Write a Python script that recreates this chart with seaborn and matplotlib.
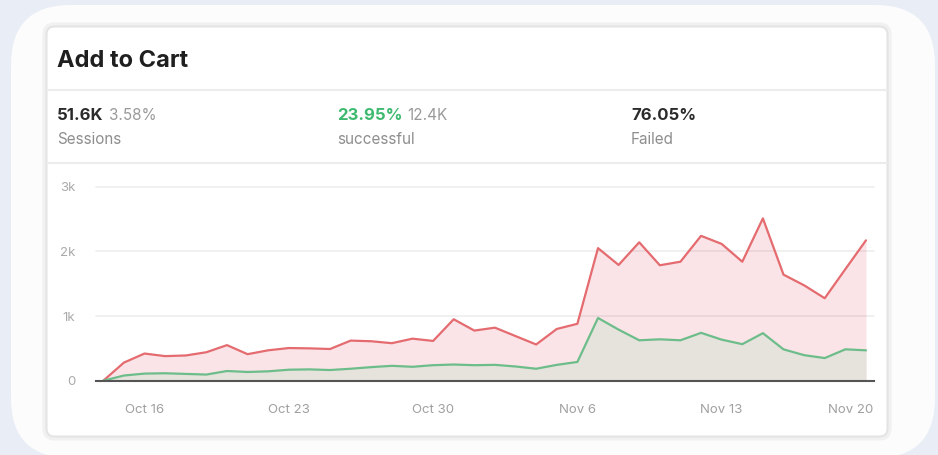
import matplotlib
matplotlib.use("Agg")
import matplotlib.pyplot as plt
from matplotlib.patches import FancyBboxPatch
import matplotlib.transforms as mtransforms
import seaborn as sns
import pandas as pd
import numpy as np

# ---------------- data ----------------
dates = pd.date_range("2023-10-14", "2023-11-20", freq="D")
sessions = [0, 280, 420, 380, 390, 440, 550, 410, 470, 505, 500, 490, 620, 610, 580, 650, 615, 950,
            775, 820, 690, 560, 800, 880, 2050, 1790, 2140, 1785, 1840, 2240, 2115, 1840, 2510,
            1640, 1475, 1275, 1725, 2170]
successful = [0, 80, 110, 115, 105, 95, 150, 135, 145, 170, 175, 165, 185, 210, 230, 215, 240, 250,
              240, 245, 220, 185, 245, 290, 970, 790, 625, 640, 625, 740, 635, 565, 735,
              485, 395, 350, 485, 470]
tick_dates = ["2023-10-16", "2023-10-23", "2023-10-30", "2023-11-06", "2023-11-13", "2023-11-20"]
tick_labels = ["Oct 16", "Oct 23", "Oct 30", "Nov 6", "Nov 13", "Nov 20"]
y_ticks = [0, 1000, 2000, 3000]
y_tick_labels = ["0", "1k", "2k", "3k"]

title = "Add to Cart"
stats = [("51.6K", "3.58%", "Sessions", "#2b2b2b"),
         ("23.95%", "12.4K", "successful", "#3dba6f"),
         ("76.05%", "", "Failed", "#2b2b2b")]

df = pd.DataFrame({"date": dates, "sessions": sessions, "successful": successful})

# ---------------- style ----------------
sns.set_style("white")
plt.rcParams["font.family"] = ["Inter", "DejaVu Sans"]

W, H = 938, 455
fig = plt.figure(figsize=(W / 100, H / 100), dpi=100)
fig.patch.set_facecolor("#e9eef6")

# background axes in pixel coordinates
bg = fig.add_axes([0, 0, 1, 1], zorder=0)
bg.set_xlim(0, W)
bg.set_ylim(H, 0)
bg.axis("off")

outer = FancyBboxPatch((11, 5), 924, 453, boxstyle="round,pad=0,rounding_size=60",
                       facecolor="#fcfcfd", edgecolor="none")
bg.add_patch(outer)
shadow = FancyBboxPatch((44.5, 24.5), 845, 414, boxstyle="round,pad=0,rounding_size=10",
                        facecolor="none", edgecolor="#f1f1f2", linewidth=3)
bg.add_patch(shadow)
inner = FancyBboxPatch((46.5, 26.5), 841, 410, boxstyle="round,pad=0,rounding_size=8",
                       facecolor="#ffffff", edgecolor="#e4e4e4", linewidth=1.5)
bg.add_patch(inner)
for yy in (89.5, 162.5):
    bg.plot([47, 887], [yy, yy], color="#ececec", lw=1.5)

bg.text(57, 61, title, fontsize=17, fontweight="bold", color="#1f1f1f", va="center", ha="left")

stat_x = [57, 337, 631]
fig.canvas.draw()
for (big, small, sub, col), x in zip(stats, stat_x):
    t = bg.text(x, 116, big, fontsize=12, fontweight="bold", color=col, va="center", ha="left")
    if small:
        bb = t.get_window_extent(renderer=fig.canvas.get_renderer())
        x2 = bb.x1 + 5
        bg.text(x2, 116, small, fontsize=11, color="#9a9a9a", va="center", ha="left")
    bg.text(x, 139, sub, fontsize=11, color="#8e8e8e", va="center", ha="left")

# ---------------- main chart ----------------
left_px, right_px = 96, 874
zero_px, top_px = 380.7, 186.7
ax = fig.add_axes([left_px / W, (H - zero_px) / H, (right_px - left_px) / W, (zero_px - top_px) / H],
                  zorder=2)
ax.patch.set_alpha(0)

x0 = dates[0] - pd.Timedelta(days=0.354)
x1 = dates[-1] + pd.Timedelta(days=0.39)
ax.set_xlim(x0, x1)
ax.set_ylim(0, 3000)

ax.fill_between(df["date"], 0, df["sessions"], color="#fbe4e7", lw=0, zorder=1)
ax.fill_between(df["date"], 0, df["successful"], color="#e6e2dc", lw=0, zorder=1.2)
for yv in y_ticks[1:]:
    ax.axhline(yv, color="#000000", alpha=0.07, lw=1.2, zorder=1.5, clip_on=False)

sns.lineplot(data=df, x="date", y="sessions", ax=ax, color="#e46b6f", lw=1.6, zorder=3)
sns.lineplot(data=df, x="date", y="successful", ax=ax, color="#6dbd8b", lw=1.6, zorder=3)

for s in ("top", "right", "left"):
    ax.spines[s].set_visible(False)
ax.spines["bottom"].set_color("#555555")
ax.spines["bottom"].set_linewidth(1.5)
ax.spines["bottom"].set_zorder(4)

ax.set_xticks(pd.to_datetime(tick_dates))
ax.set_xticklabels(tick_labels)
ax.set_yticks(y_ticks)
ax.set_yticklabels(y_tick_labels)
ax.tick_params(axis="x", direction="out", length=9.5, width=1.5, color="#555555",
               labelsize=9.5, labelcolor="#a0a0a0", pad=7)
ax.tick_params(axis="y", length=0, labelsize=9.5, labelcolor="#aaaaaa", pad=15)
ax.set_xlabel("")
ax.set_ylabel("")

# keep the last label inside the plot area (right-aligned near the tick)
last = ax.get_xticklabels()[-1]
last.set_ha("right")
last.set_transform(last.get_transform() + mtransforms.ScaledTranslation(7 / 100, 0, fig.dpi_scale_trans))

fig.savefig("out.png", dpi=100, facecolor=fig.get_facecolor())
